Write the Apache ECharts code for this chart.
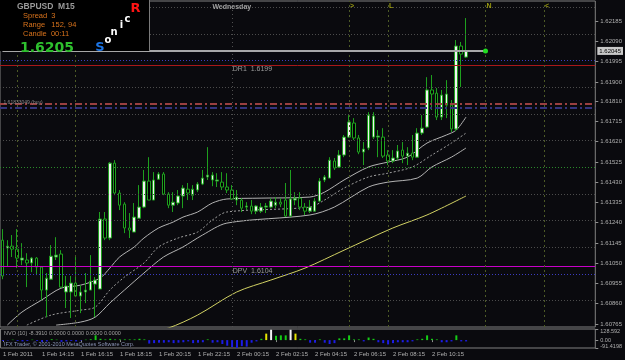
<!DOCTYPE html>
<html>
<head>
<meta charset="utf-8">
<script src="https://cdn.jsdelivr.net/npm/echarts@6/dist/echarts.min.js"></script>
<style>
html, body { margin: 0; padding: 0; background: #0a0a0e; }
#chart { width: 625px; height: 360px; }
</style>
</head>
<body>
<div id="chart"></div>
<script>
// GBPUSD M15 candles
const openP = [1.61158,1.61121,1.61130,1.61116,1.61065,1.61065,1.61051,1.61074,1.61032,1.60924,
  1.60975,1.61079,1.61093,1.60915,1.60915,1.60957,1.60896,1.60915,1.60924,1.60952,
  1.60929,1.61257,1.61168,1.61519,1.61379,1.61327,1.61215,1.61196,1.61261,1.61313,
  1.61435,1.61346,1.61444,1.61468,1.61374,1.61322,1.61332,1.61365,1.61397,1.61369,
  1.61393,1.61421,1.61454,1.61440,1.61435,1.61430,1.61407,1.61393,1.61346,1.61346,
  1.61313,1.61318,1.61294,1.61294,1.61313,1.61313,1.61322,1.61336,1.61346,1.61271,
  1.61346,1.61355,1.61313,1.61294,1.61294,1.61341,1.61440,1.61449,1.61529,1.61501,
  1.61557,1.61641,1.61707,1.61637,1.61571,1.61590,1.61641,1.61641,1.61641,1.61557,
  1.61529,1.61543,1.61580,1.61552,1.61566,1.61547,1.61660,1.61688,1.61862,1.61847,
  1.61735,1.61791,1.61791,1.61679,1.62068,1.62016];
const closeP = [1.60990,1.61130,1.61116,1.61074,1.61074,1.61051,1.61074,1.61032,1.60924,1.60980,
  1.61083,1.61088,1.60938,1.60943,1.60957,1.60896,1.60915,1.60924,1.60966,1.60971,
  1.61257,1.61168,1.61519,1.61379,1.61322,1.61215,1.61205,1.61266,1.61313,1.61435,
  1.61346,1.61440,1.61468,1.61374,1.61322,1.61336,1.61365,1.61402,1.61379,1.61397,
  1.61421,1.61449,1.61463,1.61463,1.61440,1.61407,1.61393,1.61351,1.61360,1.61308,
  1.61318,1.61294,1.61318,1.61313,1.61318,1.61341,1.61336,1.61327,1.61271,1.61351,
  1.61355,1.61313,1.61294,1.61313,1.61341,1.61435,1.61454,1.61533,1.61496,1.61557,
  1.61641,1.61712,1.61637,1.61571,1.61585,1.61744,1.61740,1.61646,1.61552,1.61529,
  1.61543,1.61576,1.61552,1.61566,1.61547,1.61660,1.61683,1.61862,1.61843,1.61735,
  1.61838,1.61843,1.61679,1.62068,1.62030,1.62045];
const lowP = [1.60975,1.61032,1.61079,1.61027,1.61041,1.60938,1.61008,1.60994,1.60877,1.60797,
  1.60971,1.61065,1.60933,1.60840,1.60793,1.60891,1.60816,1.60863,1.60924,1.60797,
  1.60929,1.61158,1.61158,1.61369,1.61299,1.61191,1.61168,1.61196,1.61261,1.61308,
  1.61346,1.61346,1.61440,1.61369,1.61308,1.61290,1.61322,1.61308,1.61346,1.61346,
  1.61383,1.61416,1.61440,1.61411,1.61407,1.61393,1.61379,1.61346,1.61322,1.61290,
  1.61299,1.61280,1.61280,1.61285,1.61285,1.61308,1.61308,1.61313,1.61266,1.61266,
  1.61322,1.61299,1.61276,1.61285,1.61290,1.61336,1.61430,1.61449,1.61487,1.61496,
  1.61547,1.61637,1.61627,1.61561,1.61510,1.61580,1.61632,1.61547,1.61543,1.61510,
  1.61519,1.61533,1.61519,1.61510,1.61533,1.61543,1.61651,1.61683,1.61768,1.61721,
  1.61721,1.61730,1.61665,1.61669,1.61876,1.62012];
const highP = [1.61210,1.61158,1.61182,1.61210,1.61144,1.61097,1.61079,1.61079,1.61036,1.61004,
  1.61135,1.61172,1.61111,1.60990,1.60990,1.61079,1.60947,1.61004,1.61088,1.60985,
  1.61290,1.61290,1.61524,1.61533,1.61393,1.61336,1.61285,1.61332,1.61416,1.61487,
  1.61547,1.61477,1.61477,1.61477,1.61383,1.61383,1.61393,1.61416,1.61426,1.61416,
  1.61430,1.61487,1.61594,1.61477,1.61472,1.61477,1.61472,1.61416,1.61393,1.61355,
  1.61336,1.61346,1.61322,1.61332,1.61332,1.61355,1.61360,1.61355,1.61426,1.61487,
  1.61383,1.61383,1.61332,1.61346,1.61355,1.61449,1.61463,1.61547,1.61543,1.61580,
  1.61651,1.61744,1.61730,1.61651,1.61618,1.61758,1.61758,1.61674,1.61683,1.61580,
  1.61580,1.61604,1.61618,1.61594,1.61651,1.61683,1.61744,1.61922,1.61932,1.61871,
  1.61862,1.61908,1.61815,1.62096,1.62087,1.62199];

// envelope + slow MA, [bar, price] points
const bandUpper = [[1,1.60760],[4,1.60821],[8,1.60877],[12,1.60933],[16,1.60947],[20,1.60980],
  [22,1.61027],[24,1.61079],[27,1.61126],[29,1.61168],[32,1.61215],[35,1.61243],[37,1.61266],
  [40,1.61290],[43,1.61332],[46,1.61351],[53,1.61355],[63,1.61360],[66,1.61383],[70,1.61440],
  [75,1.61501],[79,1.61524],[83,1.61547],[87,1.61613],[91,1.61651],[93,1.61674],[95,1.61735]];
const bandMid = [[5,1.60760],[10,1.60807],[16,1.60830],[19,1.60844],[22,1.60924],[25,1.60985],
  [29,1.61051],[32,1.61126],[36,1.61168],[40,1.61196],[43,1.61252],[46,1.61290],[63,1.61313],
  [66,1.61346],[70,1.61402],[75,1.61454],[79,1.61472],[84,1.61501],[88,1.61557],[92,1.61613],[95,1.61660]];
const bandLower = [[11,1.60760],[16,1.60774],[19,1.60797],[22,1.60863],[25,1.60924],[29,1.61004],
  [33,1.61079],[37,1.61126],[41,1.61182],[46,1.61238],[63,1.61276],[68,1.61313],[75,1.61407],
  [79,1.61430],[85,1.61449],[88,1.61501],[92,1.61547],[95,1.61590]];
const maSlow = [[30,1.60730],[34,1.60746],[40,1.60807],[48,1.60915],[55,1.60971],[62,1.61027],
  [70,1.61111],[80,1.61215],[87,1.61276],[95,1.61365]];

// NVO (10) histogram
const nvoValues = [-10,-5,5,-10,-15,-10,5,-10,-20,-15,10,5,-20,-15,-10,-15,-5,5,10,55,
  15,8,15,8,8,8,8,8,15,8,-40,-35,-30,-30,-25,-35,-30,-25,-15,-35,
  -30,-25,8,-30,-25,-45,-65,-80,-90,-70,-75,-30,-15,15,75,120,50,55,55,120,
  75,15,8,-30,-30,8,-30,-45,-35,20,20,55,8,8,-15,30,15,-25,-35,-50,
  -35,-25,-25,-25,-15,8,15,55,15,8,-25,-25,-15,55,-15,-15];

const timeLabels = ['1 Feb 2011','1 Feb 14:15','1 Feb 16:15','1 Feb 18:15','1 Feb 20:15','1 Feb 22:15',
  '2 Feb 00:15','2 Feb 02:15','2 Feb 04:15','2 Feb 06:15','2 Feb 08:15','2 Feb 10:15'];
const labelStep = 8;
const slotCount = 122;
const priceTicks = [1.62185,1.62090,1.61995,1.61900,1.61810,1.61715,1.61620,1.61525,1.61430,
  1.61335,1.61240,1.61145,1.61050,1.60955,1.60860,1.60765];
const nvoTicks = [128.592, 0, -91.4198];
const nvoTickText = ['128.592', '0.00', '-91.4198'];

const quarterLevels = [1.62250,1.62125,1.61875,1.61750,1.61625,1.61375,1.61250,1.61125,1.60875];
const halfLevels = [1.61500];
const roundLevels = [1.62000, 1.61000];
const dr1 = 1.61980, dpv = 1.61037, buyLine = 1.61796, buyLine2 = 1.61780;
const bidPrice = 1.62045;
const sessionBars = [3, 15, 71, 79, 99, 111];
const sessionText = ['N', '<', '>', 'L', 'N', '<'];
const dayBar = 47;

const candles = openP.map((o, i) => [o, closeP[i], lowP[i], highP[i]]);
const cats = [];
for (let i = 0; i < slotCount; i++) cats.push(String(i));

const small = 'Liberation Sans';
const grey = '#b0b0b0';

function nvoColor(v) {
  if (v < 0) return '#1c1ce8';
  if (v >= 100) return '#f2f2f2';
  if (v >= 65) return '#e6e600';
  return '#16cc16';
}

// one empty series per line style; precision kept high so prices are not rounded
function levelSeries(list, key, color, type, width) {
  return {
    type: 'line', xAxisIndex: 0, yAxisIndex: 0, data: [], z: 1, silent: true,
    markLine: {
      silent: true, precision: 6, symbol: ['none', 'none'], label: { show: false },
      lineStyle: { color: color, type: type, width: width || 1, opacity: 1 },
      data: list.map(v => ({ [key]: v }))
    }
  };
}

const tag = (bar, price, text, pos, color, size, weight) => ({
  coord: [bar, price], symbolSize: 0,
  label: { show: true, position: pos, distance: 1, formatter: text, color: color,
    fontSize: size, fontWeight: weight || 'normal', fontFamily: small }
});

let chart = echarts.init(document.getElementById('chart'));
chart.setOption({
  backgroundColor: '#0a0a0e',
  animation: false,
  grid: [
    { left: 0, top: 1, width: 600, height: 326, show: true, borderColor: '#808080', borderWidth: 1 },
    { left: 0, top: 329, width: 600, height: 19, show: true, borderColor: '#808080', borderWidth: 1 }
  ],
  xAxis: [
    { type: 'category', gridIndex: 0, data: cats, boundaryGap: true,
      axisLine: { show: false }, axisTick: { show: false }, axisLabel: { show: false } },
    { type: 'category', gridIndex: 1, data: cats, boundaryGap: true,
      axisLine: { show: false },
      axisTick: { show: true, alignWithLabel: true, length: 2, lineStyle: { color: '#909090' },
        interval: (i) => i % labelStep === 0 && i / labelStep < timeLabels.length },
      axisLabel: { show: true, align: 'left', margin: 3, color: grey, fontSize: 6, fontFamily: small,
        interval: (i) => i % labelStep === 0 && i / labelStep < timeLabels.length,
        formatter: (v, i) => timeLabels[i / labelStep] || '' } }
  ],
  yAxis: [
    { type: 'value', gridIndex: 0, position: 'right', min: 1.60751, max: 1.62279,
      splitLine: { show: false }, axisLine: { show: false },
      axisTick: { show: true, length: 3, customValues: priceTicks, lineStyle: { color: '#909090' } },
      axisLabel: { customValues: priceTicks, margin: 5, color: grey, fontSize: 6, fontFamily: small,
        formatter: (v) => v.toFixed(5) } },
    { type: 'value', gridIndex: 1, position: 'right', min: -91.4198, max: 128.592,
      splitLine: { show: false }, axisLine: { show: false },
      axisTick: { show: true, length: 3, customValues: nvoTicks, lineStyle: { color: '#909090' } },
      axisLabel: { customValues: nvoTicks, showMinLabel: true, showMaxLabel: true, hideOverlap: false,
        margin: 5, color: grey, fontSize: 5.5, fontFamily: small,
        formatter: (v) => {
          const k = nvoTicks.indexOf(v);
          if (k === 0) return '{t|' + nvoTickText[0] + '}';
          if (k === 2) return '{b|' + nvoTickText[2] + '}';
          return nvoTickText[1];
        },
        rich: { t: { padding: [4, 0, 0, 0], fontSize: 5.5, color: grey }, b: { padding: [0, 0, 4, 0], fontSize: 5.5, color: grey } } } }
  ],
  series: [
    levelSeries(quarterLevels, 'yAxis', '#4c4c4c', [1, 2]),
    levelSeries(halfLevels, 'yAxis', '#2a8a2a', [1, 2]),
    levelSeries(roundLevels, 'yAxis', '#3c3cc0', [1, 2]),
    levelSeries([dr1], 'yAxis', '#a81818', 'solid'),
    levelSeries([dpv], 'yAxis', '#c800c8', 'solid'),
    levelSeries([buyLine], 'yAxis', '#9a4040', [7, 3, 2, 3], 2),
    levelSeries([buyLine2], 'yAxis', '#34347e', [7, 3, 2, 3], 2),
    levelSeries(sessionBars, 'xAxis', '#4c5a26', [2, 3]),
    levelSeries([dayBar], 'xAxis', '#505050', [1, 3]),
    { // text tags on the chart
      type: 'line', xAxisIndex: 0, yAxisIndex: 0, data: [], z: 5, silent: true,
      markPoint: {
        silent: true, symbol: 'circle',
        data: [].concat(
          sessionBars.map((b, k) => tag(b, 1.62256, sessionText[k], 'right', '#9a9a10', 7, 'bold')),
          [tag(dayBar, 1.62251, 'Wednesday', 'inside', '#a0a0a0', 7, 'bold'),
           tag(dayBar, 1.61960, 'DR1  1.6199', 'right', '#9a9a9a', 7),
           tag(dayBar, 1.61013, 'DPV  1.6104', 'right', '#9a9a9a', 7),
           tag(0, 1.61805, '1.61833049 (buy)', 'right', '#8a8a8a', 5)]
        )
      }
    },
    { type: 'line', xAxisIndex: 0, yAxisIndex: 0, data: bandUpper, symbol: 'none', smooth: 0.3, z: 2,
      lineStyle: { color: '#b4b4b4', width: 1 } },
    { type: 'line', xAxisIndex: 0, yAxisIndex: 0, data: bandMid, symbol: 'none', smooth: 0.3, z: 2,
      lineStyle: { color: '#a0a0a0', width: 1, type: [2, 2] } },
    { type: 'line', xAxisIndex: 0, yAxisIndex: 0, data: bandLower, symbol: 'none', smooth: 0.3, z: 2,
      lineStyle: { color: '#b4b4b4', width: 1 } },
    { type: 'line', xAxisIndex: 0, yAxisIndex: 0, data: maSlow, symbol: 'none', smooth: 0.3, z: 2,
      lineStyle: { color: '#d2d264', width: 1 } },
    {
      type: 'candlestick', xAxisIndex: 0, yAxisIndex: 0, data: candles, barWidth: 3, z: 3,
      itemStyle: { color: '#f0f0f0', color0: '#000000', borderColor: '#1ea01e', borderColor0: '#1ea01e', borderWidth: 1 },
      markLine: {
        silent: true, precision: 6, symbol: ['none', 'none'],
        lineStyle: { color: '#a8a8a8', width: 2, type: 'solid' },
        label: { show: false },
        data: [
          [{ coord: [0, bidPrice] }, { coord: [99, bidPrice] }]
        ]
      },
      markPoint: {
        silent: true,
        data: [{ coord: [99, bidPrice], symbol: 'circle', symbolSize: 5, itemStyle: { color: '#22dd22' }, label: { show: false } }]
      }
    },
    { // price box on the axis
      type: 'line', xAxisIndex: 0, yAxisIndex: 0, data: [], silent: true, z: 6,
      markLine: {
        silent: true, precision: 6, symbol: ['none', 'none'],
        lineStyle: { color: 'rgba(0,0,0,0)', width: 1 },
        label: { show: true, position: 'end', distance: 2, formatter: bidPrice.toFixed(5),
          backgroundColor: '#c8c8c8', color: '#000000', fontSize: 6, fontFamily: small, padding: [1, 2] },
        emphasis: { disabled: true },
        data: [{ yAxis: bidPrice }]
      }
    },
    {
      type: 'bar', xAxisIndex: 1, yAxisIndex: 1, barWidth: 2,
      data: nvoValues.map(v => ({ value: v, itemStyle: { color: nvoColor(v) } }))
    }
  ],
  graphic: [
    { type: 'rect', z: 100, shape: { x: 0, y: 0, width: 150, height: 51 }, style: { fill: '#000000' } },
    { type: 'line', z: 100, shape: { x1: 149.5, y1: 0, x2: 149.5, y2: 51 }, style: { stroke: '#7a7a7a', lineWidth: 1 } },
    { type: 'text', z: 101, x: 17, y: 7, style: { text: 'GBPUSD  M15', fill: '#9a9a9a', font: 'bold 8.5px "Liberation Sans"', textVerticalAlign: 'middle' } },
    { type: 'text', z: 101, x: 23, y: 16, style: { text: 'Spread  3', fill: '#d9731c', font: '7.5px "Liberation Sans"', textVerticalAlign: 'middle' } },
    { type: 'text', z: 101, x: 23, y: 25, style: { text: 'Range   152, 94', fill: '#d9731c', font: '7.5px "Liberation Sans"', textVerticalAlign: 'middle' } },
    { type: 'text', z: 101, x: 23, y: 34, style: { text: 'Candle  00:11', fill: '#d9731c', font: '7.5px "Liberation Sans"', textVerticalAlign: 'middle' } },
    { type: 'text', z: 101, x: 20, y: 48, style: { text: '1.6205', fill: '#2ec02e', font: 'bold 14px "DejaVu Sans"', textVerticalAlign: 'middle' } },
    { type: 'text', z: 101, x: 100, y: 48, style: { text: 'S', fill: '#1c74e4', font: 'bold 13px "DejaVu Sans"', textAlign: 'center', textVerticalAlign: 'middle' } },
    { type: 'text', z: 101, x: 108, y: 40, style: { text: 'o', fill: '#ffffff', font: 'bold 10px "DejaVu Sans"', textAlign: 'center', textVerticalAlign: 'middle' } },
    { type: 'text', z: 101, x: 114, y: 32, style: { text: 'n', fill: '#ffffff', font: 'bold 10px "DejaVu Sans"', textAlign: 'center', textVerticalAlign: 'middle' } },
    { type: 'text', z: 101, x: 121.5, y: 25, style: { text: 'i', fill: '#ffffff', font: 'bold 10px "DejaVu Sans"', textAlign: 'center', textVerticalAlign: 'middle' } },
    { type: 'text', z: 101, x: 127.5, y: 19, style: { text: 'c', fill: '#ffffff', font: 'bold 10px "DejaVu Sans"', textAlign: 'center', textVerticalAlign: 'middle' } },
    { type: 'text', z: 101, x: 135.5, y: 9, style: { text: 'R', fill: '#ff1414', font: 'bold 13px "DejaVu Sans"', textAlign: 'center', textVerticalAlign: 'middle' } },
    { type: 'text', z: 101, x: 4, y: 333, style: { text: 'NVO (10) -8.3910 0.0000 0.0000 0.0000 0.0000', fill: '#a0a0a0', font: '5.5px "Liberation Sans"', textVerticalAlign: 'middle' } },
    { type: 'text', z: 101, x: 4, y: 344, style: { text: 'IFX Trader, \u00a9 2001-2010 MetaQuotes Software Corp.', fill: '#8a94b4', font: '5.5px "Liberation Sans"', textVerticalAlign: 'middle' } }
  ]
});
</script>
</body>
</html>
